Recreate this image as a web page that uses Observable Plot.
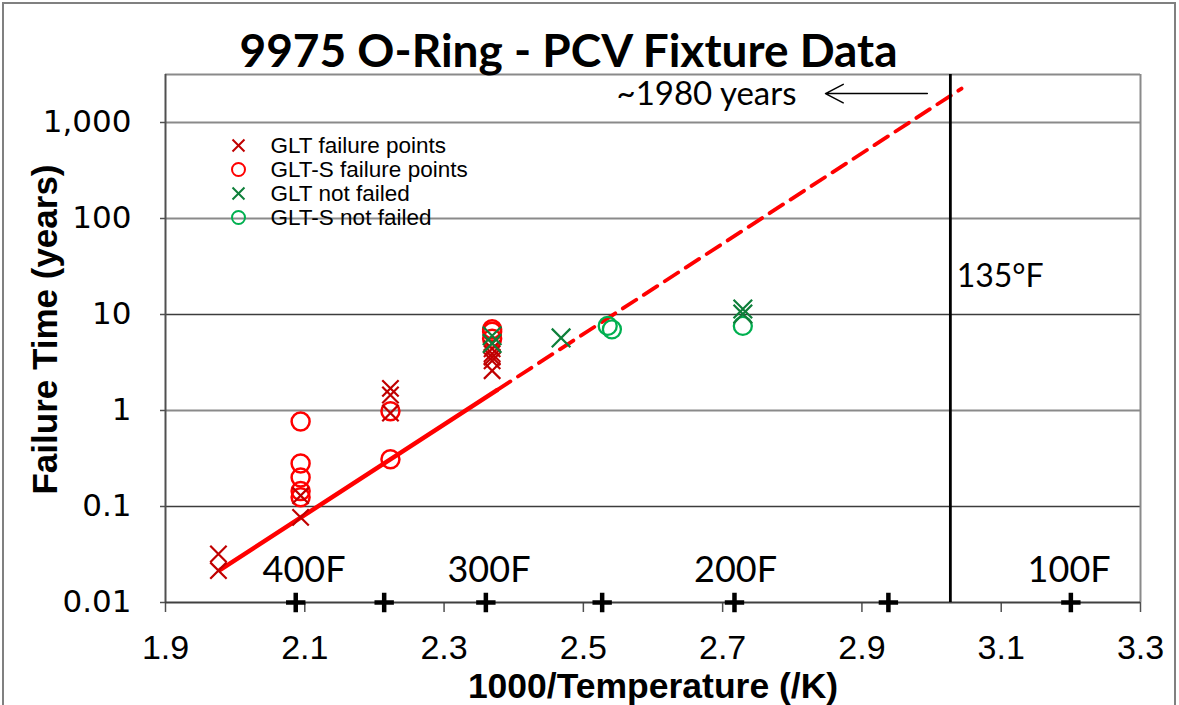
<!DOCTYPE html>
<html><head><meta charset="utf-8">
<script src="https://cdn.jsdelivr.net/npm/d3@7"></script>
<script src="https://cdn.jsdelivr.net/npm/@observablehq/plot@0.6"></script>
<style>
html,body{margin:0;padding:0;background:#fff;overflow:hidden;}
#wrap{position:relative;width:1179px;height:705px;}
#border{position:absolute;left:2px;top:2px;width:1174px;height:730px;border:2px solid #808080;box-sizing:border-box;pointer-events:none;}
g[aria-label="x-axis tick label"] text{font-family:"Liberation Sans",Arial,sans-serif;font-size:34px;}
g[aria-label="y-axis tick label"] text{font-family:"DejaVu Sans",sans-serif;font-size:31px;}
</style></head>
<body><div id="wrap"><div id="border"></div></div>
<script>
// ---- data ----
const titleText = "9975 O-Ring - PCV Fixture Data";
const xLabel = "1000/Temperature (/K)";
const yLabel = "Failure Time (years)";

const xTicks = [1.9, 2.1, 2.3, 2.5, 2.7, 2.9, 3.1, 3.3];
const xTickLabels = ["1.9", "2.1", "2.3", "2.5", "2.7", "2.9", "3.1", "3.3"];
const yTicks = [0.01, 0.1, 1, 10, 100, 1000];
const yTickLabels = ["0.01", "0.1", "1", "10", "100", "1,000"];

// GLT failure points (x)
const gltFailX = [1.976, 1.976, 2.094, 2.094, 2.223, 2.223, 2.223, 2.369, 2.369, 2.369, 2.369, 2.369, 2.369];
const gltFailY = [0.0215, 0.032, 0.077, 0.13, 0.94, 1.45, 1.7, 2.6, 3.3, 3.6, 3.9, 4.4, 5.0];
// GLT-S failure points (circles)
const gltsFailX = [2.094, 2.094, 2.094, 2.094, 2.094, 2.223, 2.223, 2.369, 2.369, 2.369];
const gltsFailY = [0.77, 0.28, 0.20, 0.145, 0.125, 0.31, 0.98, 5.6, 6.6, 7.0];
// GLT not failed (x)
const gltOkX = [2.369, 2.369, 2.468, 2.729, 2.729];
const gltOkY = [5.0, 6.0, 5.7, 10.1, 11.4];
// GLT-S not failed (circles)
const gltsOkX = [2.535, 2.541, 2.729];
const gltsOkY = [7.6, 7.0, 7.6];

// fitted Arrhenius line: solid (data range) and dashed (extrapolation)
const fitSolidX = [1.979, 2.376];
const fitSolidY = [0.022, 1.63];
const fitDashX = [2.376, 3.043];
const fitDashY = [1.63, 2255];

// reference temperature markers on the axis
const tempMarkX = [2.087, 2.214, 2.360, 2.527, 2.717, 2.938, 3.200];
const tempLabels = ["400F", "300F", "200F", "100F"];
const tempLabelX = [2.099, 2.3645, 2.7186, 3.1975];

const limitX = 3.027;           // 135°F
const limitLabel = "135°F";
const lifeLabel = "~1980 years";

const legendLabels = ["GLT failure points", "GLT-S failure points", "GLT not failed", "GLT-S not failed"];
const legendSymbols = ["times", "circle", "times", "circle"];
const legendColors = ["#C00000", "#FF0000", "#0E7F3A", "#00B050"];

// ---- build tables ----
const pts = (xs, ys) => xs.map((x, i) => ({x, y: ys[i]}));
const gltFail = pts(gltFailX, gltFailY);
const gltsFail = pts(gltsFailX, gltsFailY);
const gltOk = pts(gltOkX, gltOkY);
const gltsOk = pts(gltsOkX, gltsOkY);
const fitSolid = pts(fitSolidX, fitSolidY);
const fitDash = pts(fitDashX, fitDashY);
const tempMarks = tempMarkX.map(x => ({x, y: 0.01}));
const tempText = tempLabels.map((t, i) => ({t, x: tempLabelX[i], y: 0.0215}));

const labelFont = "Liberation Sans, Arial, sans-serif";
const calFont = "Lato, 'Open Sans', sans-serif";

const legendMarks = legendLabels.flatMap((lab, i) => [
  Plot.dot([null], {frameAnchor: "top-left", dx: 73, dy: 71 + 24 * i, symbol: legendSymbols[i],
    r: legendSymbols[i] === "circle" ? 6.5 : 5.5, stroke: legendColors[i], strokeWidth: 2, fill: "none"}),
  Plot.text([lab], {frameAnchor: "top-left", dx: 105, dy: 71 + 24 * i, textAnchor: "start", lineAnchor: "middle",
    fontSize: 22.5, fontFamily: labelFont, fill: "black"})
]);

const chart = Plot.plot({
  width: 1179, height: 705,
  marginLeft: 165, marginRight: 39, marginTop: 74, marginBottom: 103,
  x: {domain: [1.9, 3.3]},
  y: {type: "log", domain: [0.01, 3162]},
  style: {background: "transparent", fontFamily: labelFont, overflow: "visible"},
  marks: [
    Plot.ruleY([0.1, 10], {stroke: "#3c3c3c", strokeWidth: 1.4}),
    Plot.ruleY([1, 100, 1000, 3162], {stroke: "#8a8a8a", strokeWidth: 2}),
    Plot.ruleX([3.3], {stroke: "#8a8a8a", strokeWidth: 2}),
    Plot.ruleX([1.9], {stroke: "#505050", strokeWidth: 2}),
    Plot.axisX({ticks: xTicks, tickFormat: d => xTickLabels[xTicks.indexOf(d)], tickSize: 10, tickPadding: 22,
      stroke: "#505050", strokeWidth: 1.5, fill: "black", label: null}),
    Plot.axisY({ticks: yTicks, tickFormat: d => yTickLabels[yTicks.indexOf(d)], tickSize: 5, tickPadding: 29,
      stroke: "#505050", strokeWidth: 1.5, fill: "black", label: null}),
    Plot.ruleY([0.01], {stroke: "#404040", strokeWidth: 2}),
    // fit lines
    Plot.line(fitSolid, {x: "x", y: "y", stroke: "#FF0000", strokeWidth: 4.5}),
    Plot.line(fitDash, {x: "x", y: "y", stroke: "#FF0000", strokeWidth: 3.8, strokeDasharray: "16,9"}),
    // 135F limit
    Plot.ruleX([limitX], {stroke: "black", strokeWidth: 2.8}),
    // data markers
    Plot.dot(gltsOk, {x: "x", y: "y", symbol: "circle", r: 9, stroke: "#00B050", strokeWidth: 2.3, fill: "none"}),
    Plot.dot(gltsFail, {x: "x", y: "y", symbol: "circle", r: 9, stroke: "#FF0000", strokeWidth: 2.5, fill: "none"}),
    Plot.dot(gltFail, {x: "x", y: "y", symbol: "times", r: 7.5, stroke: "#C00000", strokeWidth: 2.2}),
    Plot.dot(gltOk, {x: "x", y: "y", symbol: "times", r: 8.5, stroke: "#0E7F3A", strokeWidth: 2.2}),
    // temperature markers
    Plot.dot(tempMarks, {x: "x", y: "y", symbol: "plus", r: 6.3, stroke: "black", strokeWidth: 4.5}),
    Plot.text(tempText, {x: "x", y: "y", text: "t", fontSize: 36, fontFamily: calFont, fill: "black", lineAnchor: "middle"}),
    // annotations
    Plot.text([lifeLabel], {x: 2.806, y: 1950, textAnchor: "end", lineAnchor: "middle", fontSize: 33, fontFamily: calFont, fill: "black"}),
    Plot.arrow([null], {x1: 2.9939, x2: 2.8477, y1: 2000, y2: 2000, stroke: "black", strokeWidth: 1.5, headLength: 20, headAngle: 55}),
    Plot.text([limitLabel], {x: 3.036, y: 25, textAnchor: "start", lineAnchor: "middle", fontSize: 32, fontFamily: calFont, fill: "black"}),
    // legend
    ...legendMarks,
    // titles
    Plot.text([titleText], {frameAnchor: "top", dx: -84.5, dy: -8, textAnchor: "middle", lineAnchor: "bottom", fontSize: 46, fontWeight: "bold", fontFamily: calFont, fill: "black"}),
    Plot.text([yLabel], {frameAnchor: "left", rotate: -90, dx: -109, dy: -9, textAnchor: "middle", lineAnchor: "bottom", fontSize: 35, fontWeight: "bold", fontFamily: labelFont, fill: "black"}),
    Plot.text([xLabel], {frameAnchor: "bottom", dy: 95, textAnchor: "middle", lineAnchor: "bottom", fontSize: 35.5, fontWeight: "bold", fontFamily: labelFont, fill: "black"})
  ]
});
document.getElementById("wrap").prepend(chart);
</script>
</body></html>
